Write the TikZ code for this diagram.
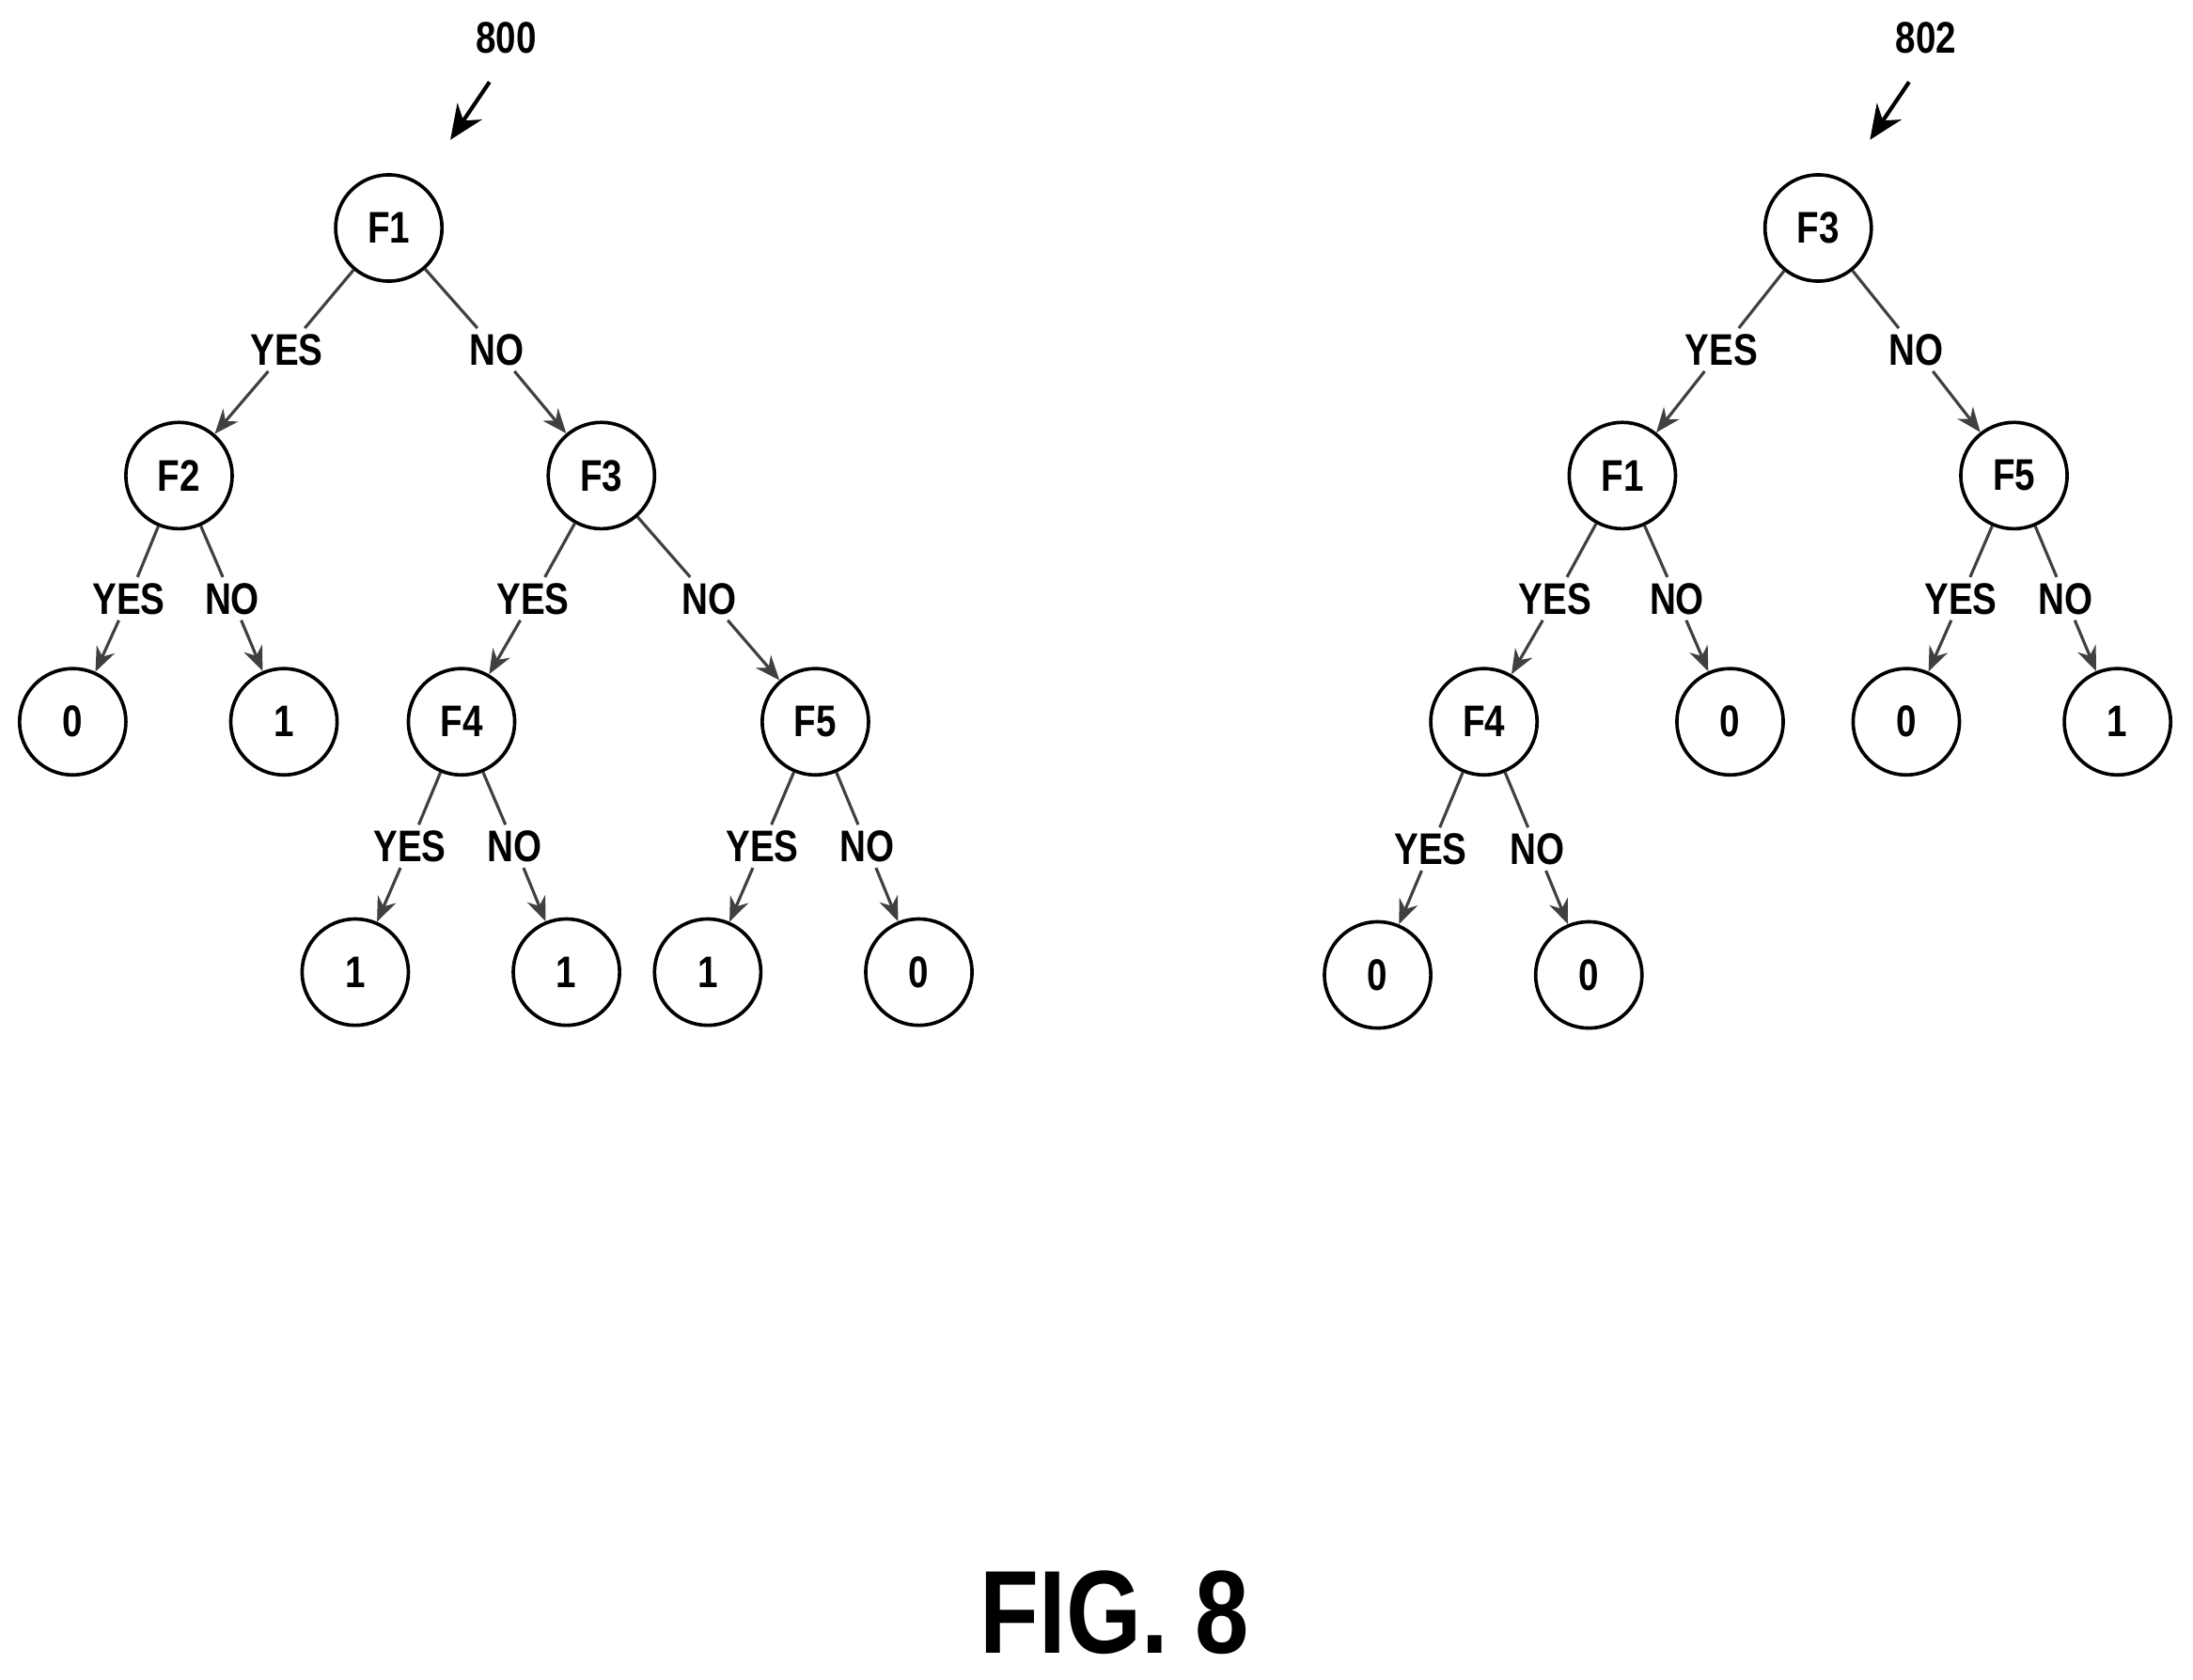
\documentclass[tikz,border=0pt]{standalone}
\usepackage{fontspec}
\setmainfont[FakeStretch=0.82]{Liberation Sans}
\usetikzlibrary{arrows.meta}
\begin{document}
\begin{tikzpicture}[x=0.01cm,y=-0.01cm,
  every node/.style={font=\bfseries\fontsize{9}{10}\selectfont},
  tnode/.style={draw, circle, line width=0.7pt, minimum size=0.76cm, inner sep=0pt},
  lbl/.style={inner sep=1pt},
  edge/.style={line width=0.6pt, draw=black!75},
  arr/.style={edge, -{Stealth[length=5pt,width=4pt]}}
]
\useasboundingbox (0,0) rectangle (1568,1201);
% tree 800
\node[tnode] (a1) at (278,163) {F1};
\node[tnode] (a2) at (128,340) {F2};
\node[tnode] (a3) at (430,340) {F3};
\node[tnode] (a4) at (52,516) {0};
\node[tnode] (a5) at (203,516) {1};
\node[tnode] (a6) at (330,516) {F4};
\node[tnode] (a7) at (583,516) {F5};
\node[tnode] (a8) at (254,695) {1};
\node[tnode] (a9) at (405,695) {1};
\node[tnode] (a10) at (506,695) {1};
\node[tnode] (a11) at (657,695) {0};
\node[lbl] (ay1) at (205,250) {YES};
\node[lbl] (an1) at (355,250) {NO};
\node[lbl] (ay2) at (92,428) {YES};
\node[lbl] (an2) at (166,428) {NO};
\node[lbl] (ay3) at (381,428) {YES};
\node[lbl] (an3) at (507,428) {NO};
\node[lbl] (ay4) at (293,605) {YES};
\node[lbl] (an4) at (368,605) {NO};
\node[lbl] (ay5) at (545,605) {YES};
\node[lbl] (an5) at (620,605) {NO};
\foreach \p/\l/\c in {a1/ay1/a2, a1/an1/a3, a2/ay2/a4, a2/an2/a5, a3/ay3/a6,
  a3/an3/a7, a6/ay4/a8, a6/an4/a9, a7/ay5/a10, a7/an5/a11} {
  \draw[edge] (\p) -- (\l);
  \draw[arr] (\l) -- (\c);
}
\node (r800) at (362,27) {800};
\coordinate (t800) at (322,100);
\draw[line width=0.8pt, -{Stealth[length=7pt,width=6pt]}] (r800.south) ++(-12,8) -- (t800);
% tree 802
\node[tnode] (b1) at (1300,163) {F3};
\node[tnode] (b2) at (1160,340) {F1};
\node[tnode] (b3) at (1440,340) {F5};
\node[tnode] (b4) at (1061,516) {F4};
\node[tnode] (b5) at (1237,516) {0};
\node[tnode] (b6) at (1363,516) {0};
\node[tnode] (b7) at (1514,516) {1};
\node[tnode] (b8) at (985,697) {0};
\node[tnode] (b9) at (1136,697) {0};
\node[lbl] (by1) at (1231,250) {YES};
\node[lbl] (bn1) at (1370,250) {NO};
\node[lbl] (by2) at (1112,428) {YES};
\node[lbl] (bn2) at (1199,428) {NO};
\node[lbl] (by3) at (1402,428) {YES};
\node[lbl] (bn3) at (1477,428) {NO};
\node[lbl] (by4) at (1023,607) {YES};
\node[lbl] (bn4) at (1099,607) {NO};
\foreach \p/\l/\c in {b1/by1/b2, b1/bn1/b3, b2/by2/b4, b2/bn2/b5, b3/by3/b6,
  b3/bn3/b7, b4/by4/b8, b4/bn4/b9} {
  \draw[edge] (\p) -- (\l);
  \draw[arr] (\l) -- (\c);
}
\node (r802) at (1377,27) {802};
\coordinate (t802) at (1337,100);
\draw[line width=0.8pt, -{Stealth[length=7pt,width=6pt]}] (r802.south) ++(-12,8) -- (t802);
\node[font=\bfseries\fontsize{24}{26}\selectfont] (fig) at (797,1153) {FIG. 8};
\end{tikzpicture}
\end{document}
